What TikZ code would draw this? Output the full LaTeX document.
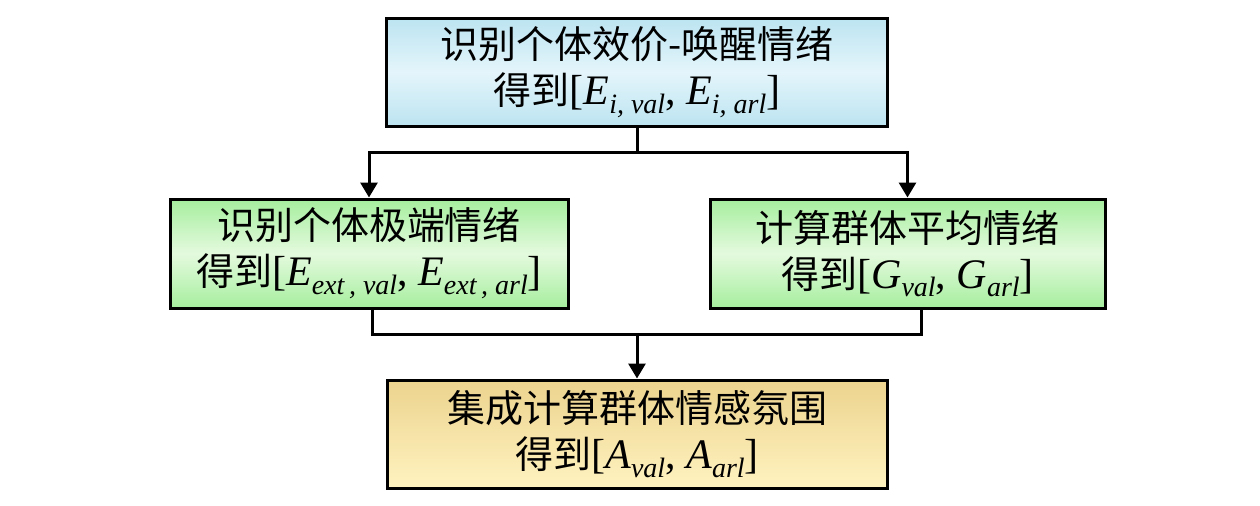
\documentclass[tikz,border=0pt]{standalone}
\usepackage{fontspec}
\setmainfont{Liberation Serif}
\newfontfamily\cjk{Noto Sans CJK SC}
\usetikzlibrary{arrows.meta}
\newcommand\lowsub[1]{\raisebox{-0.5ex}{\fontsize{14}{14}\selectfont\itshape #1}}
\newcommand\ivar[1]{{\fontsize{21}{21}\selectfont\textit{#1}}}
\newcommand\lat[1]{{\fontsize{21}{21}\selectfont #1}}
\definecolor{bluee}{HTML}{BCE4F1}
\definecolor{bluem}{HTML}{E4F5FB}
\definecolor{greene}{HTML}{A6EE9E}
\definecolor{greenm}{HTML}{E4FADE}
\definecolor{wheatt}{HTML}{ECD38E}
\definecolor{wheatb}{HTML}{FFF3C0}
\tikzset{
  box/.style={draw=black, line width=1.5pt, inner sep=0pt, align=center,
    font=\fontsize{19}{23}\selectfont},
  bluebox/.style={box, top color=bluee, bottom color=bluee, middle color=bluem},
  greenbox/.style={box, top color=greene, bottom color=greene, middle color=greenm},
  wheatbox/.style={box, top color=wheatt, bottom color=wheatb},
  conn/.style={line width=1.5pt, draw=black},
  arr/.style={conn, -{Triangle[length=7.5pt,width=8.5pt]}}
}
\begin{document}
\begin{tikzpicture}[x=0.5pt, y=-0.5pt]
\useasboundingbox (0,0) rectangle (1260,505);
\node[bluebox, minimum width=250.5pt, minimum height=54pt] (top) at (637,72)
  {{\cjk 识别个体效价-唤醒情绪}\\{\cjk 得到}\lat{[}\ivar{E}\lowsub{i, val}\lat{, }\ivar{E}\lowsub{i, arl}\lat{]}};
\node[greenbox, minimum width=199pt, minimum height=54.5pt] (left) at (369,253.5)
  {{\cjk 识别个体极端情绪}\\{\cjk 得到}\lat{[}\ivar{E}\lowsub{ext\,, val}\lat{, }\ivar{E}\lowsub{ext\,, arl}\lat{]}};
\node[greenbox, minimum width=197.5pt, minimum height=54.5pt] (right) at (907.5,253.5)
  {{\cjk 计算群体平均情绪}\\{\cjk 得到}\lat{[}\ivar{G}\lowsub{val}\lat{, }\ivar{G}\lowsub{arl}\lat{]}};
\node[wheatbox, minimum width=250pt, minimum height=54pt] (bot) at (637,434)
  {{\cjk 集成计算群体情感氛围}\\{\cjk 得到}\lat{[}\ivar{A}\lowsub{val}\lat{, }\ivar{A}\lowsub{arl}\lat{]}};
\coordinate (j1) at (637,152);
\coordinate (j2) at (637,334);
\draw[conn] (top.south) -- (j1);
\draw[arr] (j1) -| (left.north);
\draw[arr] (j1) -| (right.north);
\draw[conn] ([xshift=1.5pt]left.south) |- (j2);
\draw[conn] ([xshift=7pt]right.south) |- (j2);
\draw[arr] (j2) -- (bot.north);
\end{tikzpicture}
\end{document}
